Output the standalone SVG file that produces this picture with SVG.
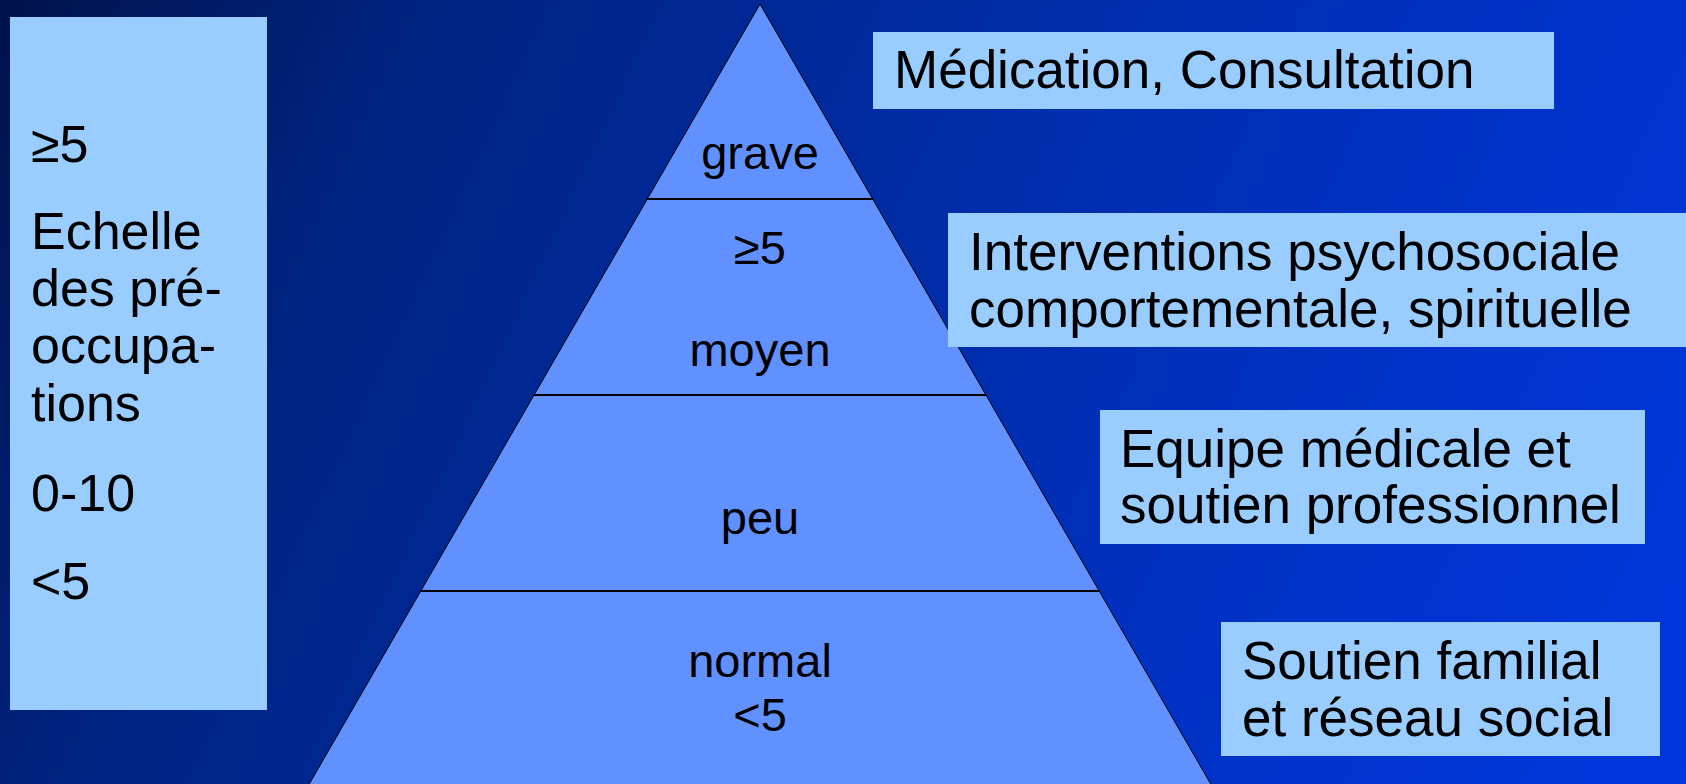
<svg xmlns="http://www.w3.org/2000/svg" width="1686" height="784" viewBox="0 0 1686 784">
  <defs>
    <linearGradient id="bg" gradientUnits="userSpaceOnUse" x1="0" y1="0" x2="1686" y2="784">
      <stop offset="0" stop-color="#00124a"/>
      <stop offset="0.2" stop-color="#00237f"/>
      <stop offset="0.5" stop-color="#002ca6"/>
      <stop offset="0.8" stop-color="#0033cc"/>
      <stop offset="1" stop-color="#0036de"/>
    </linearGradient>
    <style>
      .box { fill: #99ccff; }
      .pyr { fill: #6190ff; stroke: #000; stroke-width: 1; }
      .sep { stroke: #000; stroke-width: 2; }
      text { font-family: "Liberation Sans", Arial, sans-serif; fill: #000; }
      .lbl { font-size: 52px; }
      .rlbl { font-size: 53px; }
      .plbl { font-size: 47px; text-anchor: middle; }
    </style>
  </defs>
  <rect x="0" y="0" width="1686" height="784" fill="url(#bg)"/>

  <g id="scale-box">
    <rect class="box" x="10" y="17" width="257" height="693"/>
    <text class="lbl" x="31" y="162">≥5</text>
    <text class="lbl" x="31" y="249">Echelle</text>
    <text class="lbl" x="31" y="306">des pré-</text>
    <text class="lbl" x="31" y="363">occupa-</text>
    <text class="lbl" x="31" y="421">tions</text>
    <text class="lbl" x="31" y="511">0-10</text>
    <text class="lbl" x="31" y="599">&lt;5</text>
  </g>

  <g id="pyramid">
    <polygon class="pyr" points="760,4 1220,800 300,800"/>
  </g>

  <g id="connectors">
    <line class="sep" x1="647" y1="199" x2="873" y2="199"/>
    <line class="sep" x1="534" y1="395" x2="986" y2="395"/>
    <line class="sep" x1="421" y1="591" x2="1099" y2="591"/>
  </g>

  <g id="level-grave">
    <text class="plbl" x="760" y="169">grave</text>
  </g>
  <g id="level-moyen">
    <text class="plbl" x="760" y="264">≥5</text>
    <text class="plbl" x="760" y="366">moyen</text>
  </g>
  <g id="level-peu">
    <text class="plbl" x="760" y="534">peu</text>
  </g>
  <g id="level-normal">
    <text class="plbl" x="760" y="677">normal</text>
    <text class="plbl" x="760" y="731">&lt;5</text>
  </g>

  <g id="box-medication">
    <rect class="box" x="873" y="32" width="681" height="77"/>
    <text class="rlbl" x="894" y="88">Médication, Consultation</text>
  </g>
  <g id="box-interventions">
    <rect class="box" x="948" y="213" width="738" height="134"/>
    <text class="rlbl" x="969" y="270">Interventions psychosociale</text>
    <text class="rlbl" x="969" y="327">comportementale, spirituelle</text>
  </g>
  <g id="box-equipe">
    <rect class="box" x="1100" y="410" width="545" height="134"/>
    <text class="rlbl" x="1120" y="467">Equipe médicale et</text>
    <text class="rlbl" x="1120" y="523">soutien professionnel</text>
  </g>
  <g id="box-soutien">
    <rect class="box" x="1221" y="622" width="439" height="134"/>
    <text class="rlbl" x="1242" y="679">Soutien familial</text>
    <text class="rlbl" x="1242" y="736">et réseau social</text>
  </g>
</svg>
